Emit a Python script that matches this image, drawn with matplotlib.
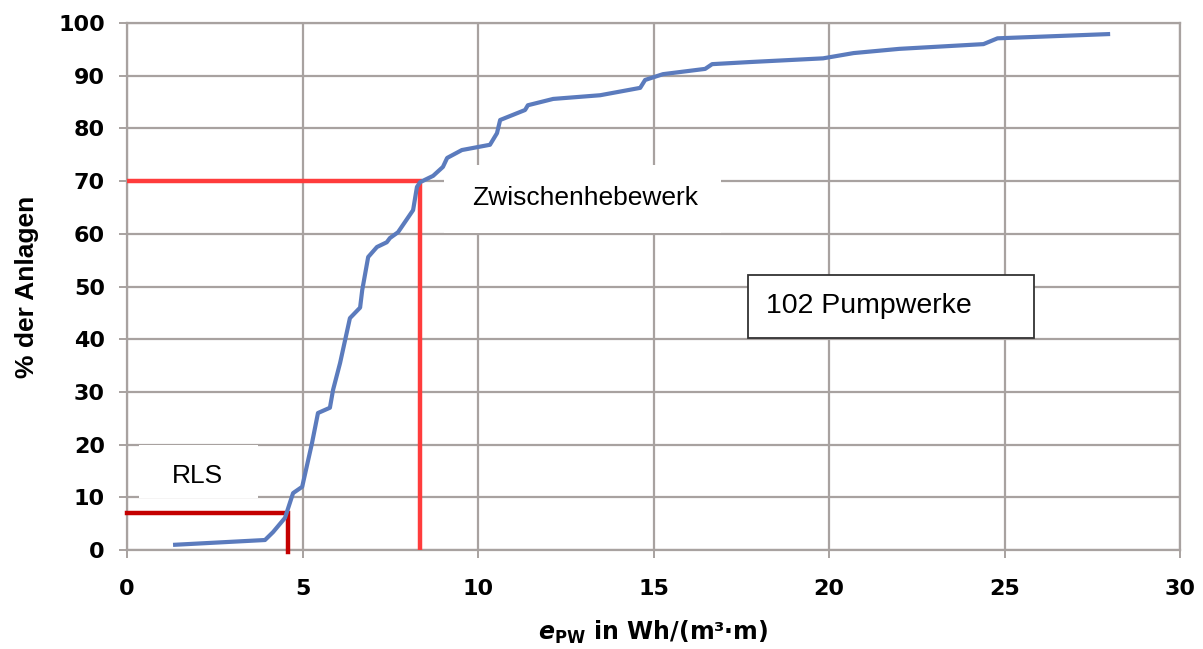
import matplotlib
matplotlib.use("Agg")
import matplotlib.pyplot as plt

# Cumulative share of plants vs specific energy
e_pw = [1.37, 3.93, 4.16, 4.5, 4.73, 4.99, 5.27, 5.44, 5.78, 5.87, 6.07, 6.35, 6.64,
        6.7, 6.87, 7.12, 7.4, 7.49, 7.72, 8.15, 8.26, 8.35, 8.72, 9.0, 9.12, 9.54,
        10.34, 10.54, 10.63, 11.34, 11.42, 12.14, 13.48, 14.62, 14.76, 15.27, 16.47,
        16.67, 17.75, 19.83, 20.7, 22.0, 24.4, 24.8, 27.95]
anteil = [1.0, 1.9, 3.4, 6.1, 10.8, 12.0, 20.3, 26.0, 27.0, 30.4, 35.5, 44.0, 46.0,
          49.3, 55.6, 57.5, 58.4, 59.2, 60.3, 64.5, 68.9, 69.8, 71.0, 72.7, 74.4, 75.9,
          76.9, 79.1, 81.6, 83.5, 84.4, 85.6, 86.3, 87.7, 89.2, 90.3, 91.3,
          92.2, 92.6, 93.3, 94.3, 95.1, 96.0, 97.1, 97.9]

# Marker lines: (x, y) of the reading for each plant type
zhw_x, zhw_y = 8.35, 70
rls_x, rls_y = 4.6, 7

xticks = [0, 5, 10, 15, 20, 25, 30]
yticks = list(range(0, 101, 10))

fig = plt.figure(figsize=(12.03, 6.49), dpi=100)
ax = fig.add_axes([0.1056, 0.1525, 0.8753, 0.812])

grid_c = "#a8a2a0"
ax.set_axisbelow(True)
ax.set_xlim(0, 30)
ax.set_ylim(0, 100)
ax.set_xticks(xticks)
ax.set_yticks(yticks)
ax.grid(True, color=grid_c, lw=1.6)
for s in ax.spines.values():
    s.set_color(grid_c)
    s.set_linewidth(1.6)
ax.tick_params(colors=grid_c, length=6, width=1.4, labelcolor="black")
ax.tick_params(axis="x", pad=15)
ax.tick_params(axis="y", pad=10)
for lab in ax.get_xticklabels() + ax.get_yticklabels():
    lab.set_fontweight("bold")
    lab.set_fontsize(16)
    lab.set_family("DejaVu Sans")

# text boxes (white, covering the grid)
ax.add_patch(plt.Rectangle((0.33, 9.8), 3.4, 10.2, fc="white", ec="none", zorder=1.5))
ax.text(2.0, 14.0, "RLS", fontsize=19, family="Liberation Sans", ha="center",
        va="center", zorder=2)
ax.add_patch(plt.Rectangle((9.04, 60.1), 7.88, 13.0, fc="white", ec="none", zorder=1.5))
ax.text(13.05, 66.8, "Zwischenhebewerk", fontsize=19, family="Liberation Sans",
        ha="center", va="center", zorder=2)
ax.add_patch(plt.Rectangle((17.69, 40.3), 8.15, 11.8, fc="white", ec="#333333",
                           lw=1.3, zorder=2))
ax.text(18.2, 46.3, "102 Pumpwerke", fontsize=20.5, family="Liberation Sans",
        ha="left", va="center", zorder=3)

# red marker lines
ax.plot([0, zhw_x, zhw_x], [zhw_y, zhw_y, 0.3], color="#ff3c3c", lw=3.2,
        solid_joinstyle="miter", zorder=3)
ax.plot([0, rls_x, rls_x], [rls_y, rls_y, -0.3], color="#c40000", lw=3.2,
        solid_joinstyle="miter", zorder=3, clip_on=False)

ax.plot(e_pw, anteil, color="#5b7bbd", lw=3.0, zorder=4)

ax.set_ylabel("% der Anlagen", fontsize=19, fontweight="bold", family="Liberation Sans",
              labelpad=14)
ax.set_xlabel(r"$\mathbfit{e}_{\mathbf{PW}}$ in Wh/(m³·m)", fontsize=17, fontweight="bold",
              labelpad=14)

fig.savefig("out.png", dpi=100)
